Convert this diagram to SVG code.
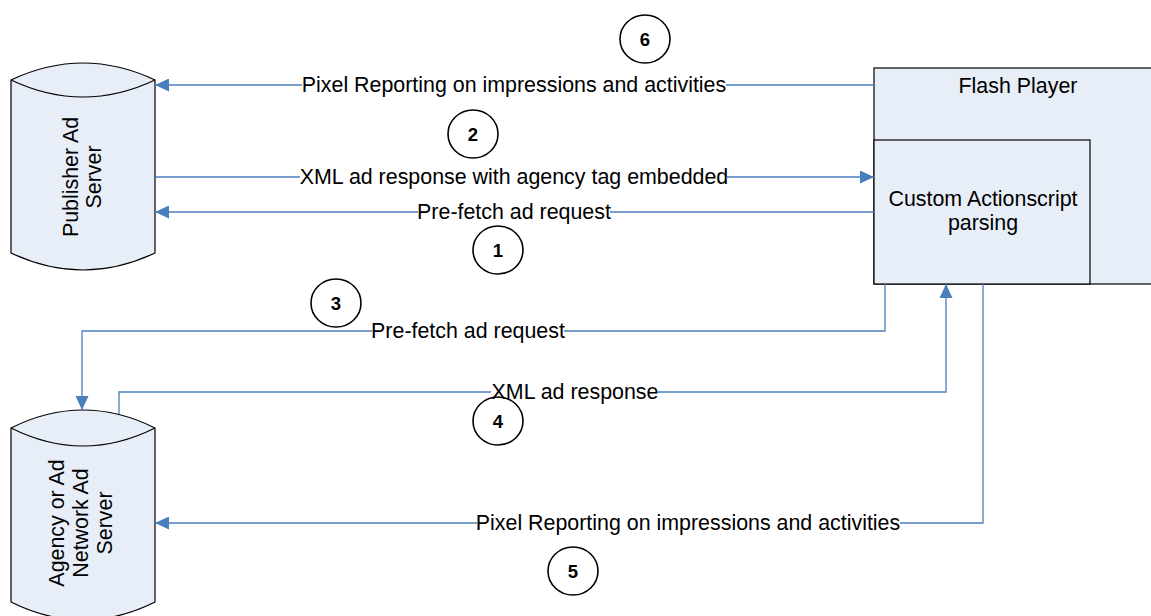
<svg xmlns="http://www.w3.org/2000/svg" width="1151" height="616" viewBox="0 0 1151 616">
<style>
.shape{fill:#e8eef7;stroke:#000;stroke-width:1.2}
.conn{fill:none;stroke:#4a7ebb;stroke-width:1.3}
.lbl{font-family:"Liberation Sans",Arial,sans-serif;font-size:21.4px;fill:#000;text-anchor:middle}
.bg{fill:#fff}
.num{fill:none;stroke:#000;stroke-width:1.6}
.numt{font-family:"Liberation Sans",Arial,sans-serif;font-size:18.5px;font-weight:bold;fill:#000;text-anchor:middle}
</style>
<defs>
<marker id="arr" markerUnits="userSpaceOnUse" markerWidth="15" markerHeight="13" refX="14" refY="6.5" orient="auto">
<path d="M0,0 L14,6.5 L0,13 z" fill="#4a7ebb"/>
</marker>
</defs>
<rect width="1151" height="616" fill="#fff"/>
<g id="publisher">
<path class="shape" d="M11,80 Q83,46 155,80 L155,253 Q83,287 11,253 Z"/>
<path class="shape" d="M11,80 Q83,114 155,80" fill="none"/>
<text class="lbl" transform="translate(83,177) rotate(-90)"><tspan x="0" y="-5">Publisher Ad</tspan><tspan x="0" y="18">Server</tspan></text>
</g>
<g id="agency">
<path class="shape" d="M11,428 Q83,392 155,428 L155,602 Q83,638 11,602 Z"/>
<path class="shape" d="M11,428 Q83,464 155,428" fill="none"/>
<text class="lbl" transform="translate(83,523) rotate(-90)"><tspan x="0" y="-19">Agency or Ad</tspan><tspan x="0" y="5">Network Ad</tspan><tspan x="0" y="29">Server</tspan></text>
</g>
<g id="flash">
<rect class="shape" x="874" y="68" width="320" height="216"/>
<text class="lbl" x="1018" y="93">Flash Player</text>
</g>
<g id="actionscript">
<rect class="shape" x="874" y="140" width="216" height="144"/>
<text class="lbl" x="983" y="206">Custom Actionscript</text>
<text class="lbl" x="983" y="230">parsing</text>
</g>
<g id="connectors">
<path class="conn" d="M874,85 H155" marker-end="url(#arr)"/>
<path class="conn" d="M155,177 H874" marker-end="url(#arr)"/>
<path class="conn" d="M874,212 H155" marker-end="url(#arr)"/>
<path class="conn" d="M885,284 V331 H82 V410" marker-end="url(#arr)"/>
<path class="conn" d="M119,414 V392 H946 V284" marker-end="url(#arr)"/>
<path class="conn" d="M983,284 V523 H155" marker-end="url(#arr)"/>
<rect class="bg" x="302" y="76" width="424" height="18"/>
<text class="lbl" x="514" y="92">Pixel Reporting on impressions and activities</text>
<rect class="bg" x="300" y="168" width="427" height="18"/>
<text class="lbl" x="514" y="184">XML ad response with agency tag embedded</text>
<rect class="bg" x="418" y="203" width="192" height="18"/>
<text class="lbl" x="514" y="219">Pre-fetch ad request</text>
<rect class="bg" x="372" y="322" width="192" height="18"/>
<text class="lbl" x="468" y="338">Pre-fetch ad request</text>
<rect class="bg" x="491" y="383" width="167" height="18"/>
<text class="lbl" x="575" y="399">XML ad response</text>
<rect class="bg" x="477" y="514" width="423" height="18"/>
<text class="lbl" x="688" y="530">Pixel Reporting on impressions and activities</text>
</g>
<g id="step6"><ellipse class="num" cx="645" cy="39" rx="25" ry="24"/><text class="numt" x="645" y="45.5">6</text></g>
<g id="step2"><ellipse class="num" cx="473" cy="134" rx="25" ry="24"/><text class="numt" x="473" y="140.5">2</text></g>
<g id="step1"><ellipse class="num" cx="498" cy="250" rx="25" ry="24"/><text class="numt" x="498" y="256.5">1</text></g>
<g id="step3"><ellipse class="num" cx="336" cy="303" rx="25" ry="24"/><text class="numt" x="336" y="309.5">3</text></g>
<g id="step4"><ellipse class="num" cx="498" cy="421" rx="25" ry="24"/><text class="numt" x="498" y="427.5">4</text></g>
<g id="step5"><ellipse class="num" cx="573" cy="571" rx="25" ry="24"/><text class="numt" x="573" y="577.5">5</text></g>
</svg>
